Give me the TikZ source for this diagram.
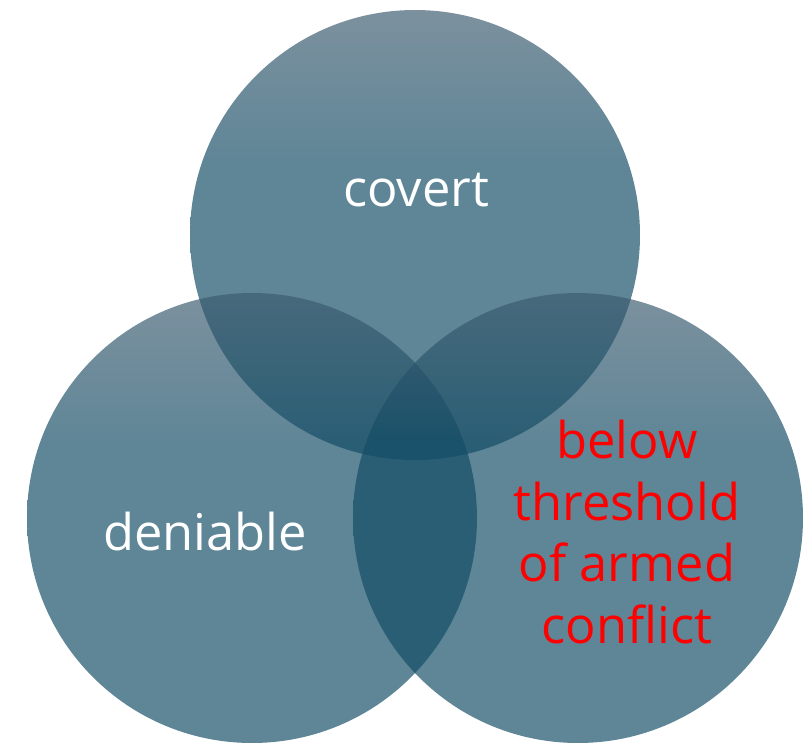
\documentclass[tikz,border=0pt]{standalone}
\usepackage{fontspec}
\setmainfont{Open Sans}
\usepackage{tikz}
\definecolor{circtop}{RGB}{62,92,112}
\definecolor{circbot}{RGB}{18,76,101}
\pgfdeclareverticalshading{venngrad}{100bp}{color(0bp)=(circbot); color(25bp)=(circbot); color(58bp)=(circbot); color(75bp)=(circtop); color(100bp)=(circtop)}
\tikzset{
	venn/.style={circle, draw=none, minimum size=4.5cm, inner sep=0pt,
		shading=venngrad, fill opacity=0.68},
	vennword/.style={inner sep=0pt, font=\fontsize{14.4}{17.5}\selectfont}
}

\begin{document}
\begin{tikzpicture}
			%%%%% START %%%%%
			\useasboundingbox (0, 0) rectangle (8.05, 7.44);
			
			\node[venn] (circCovert) at (4.15, 5.09) {};
			\node[venn] (circDeniable) at (2.52, 2.26) {};
			\node[venn] (circThreshold) at (5.78, 2.26) {};
			
			\node[vennword, white, anchor=base] (covert) at (4.16, 5.38) {covert};
			\node[vennword, white, anchor=base] (deniable) at (2.05, 1.94) {deniable};
			\node[vennword, red, align=center] (threshold) at (6.27, 2.12) {below\\threshold\\of armed\\conflict};
			%%%%% END %%%%%
		\end{tikzpicture}
\end{document}
